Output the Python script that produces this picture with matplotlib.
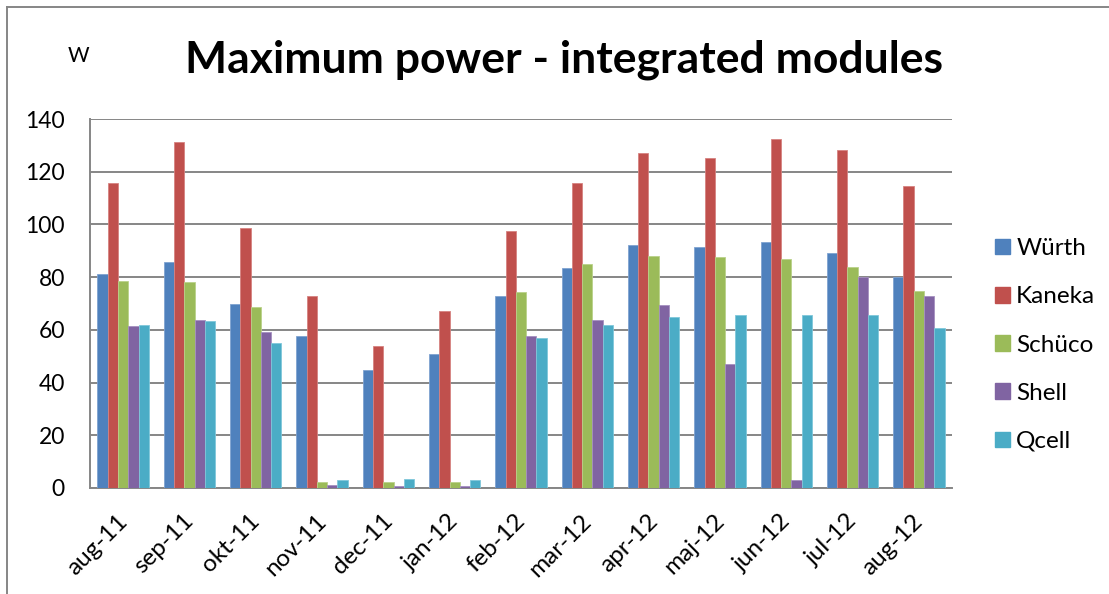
import matplotlib
matplotlib.use("Agg")
import matplotlib.pyplot as plt
from matplotlib.lines import Line2D
from matplotlib.patches import Patch
import numpy as np

months = ["aug-11", "sep-11", "okt-11", "nov-11", "dec-11", "jan-12", "feb-12",
          "mar-12", "apr-12", "maj-12", "jun-12", "jul-12", "aug-12"]
wurth = [81.3, 85.7, 69.9, 57.7, 44.9, 51.0, 73.0, 83.3, 92.3, 91.6, 93.5, 89.2, 80.1]
kaneka = [115.8, 131.4, 98.6, 72.8, 53.9, 67.2, 97.4, 115.7, 127.0, 125.3, 132.5, 128.1, 114.7]
schuco = [78.7, 78.3, 68.7, 2.1, 2.3, 2.3, 74.5, 84.9, 88.2, 87.6, 86.9, 84.0, 74.7]
shell = [61.6, 63.9, 59.2, 1.1, 0.9, 0.9, 57.8, 63.7, 69.6, 47.0, 3.2, 80.1, 72.7]
qcell = [61.8, 63.2, 54.9, 3.2, 3.5, 3.2, 57.0, 62.0, 64.8, 65.5, 65.5, 65.8, 60.6]
series_names = ["Würth", "Kaneka", "Schüco", "Shell", "Qcell"]
yticks = [0, 20, 40, 60, 80, 100, 120, 140]

colors = ["#4F81BD", "#C0504D", "#9BBB59", "#8064A2", "#4BACC6"]
edges = ["#7FA3D1", "#D68280", "#BAD28A", "#A590C0", "#7FC7DA"]

plt.rcParams['font.family'] = ['Lato', 'DejaVu Sans']

W, H = 1109, 594
fig = plt.figure(figsize=(W / 100, H / 100), dpi=100)
L, R, T, B = 90, 952, 119, 488
ax = fig.add_axes([L / W, (H - B) / H, (R - L) / W, (B - T) / H])

x = np.arange(len(months))
bw = 0.155
data = [wurth, kaneka, schuco, shell, qcell]
for i, (vals, c, ec) in enumerate(zip(data, colors, edges)):
    ax.bar(x + (i - 2) * bw, vals, width=bw, color=c, edgecolor=ec,
           linewidth=0.6, zorder=3)

ax.set_xlim(-0.5, len(months) - 0.5)
ax.set_ylim(0, 140)
ax.set_yticks(yticks)
ax.set_yticklabels([str(v) for v in yticks], fontsize=16.5)
ax.yaxis.grid(True, color="#868686", linewidth=1.4, zorder=0)
ax.set_axisbelow(True)
ax.tick_params(axis="y", length=0, pad=18)
ax.tick_params(axis="x", length=0, pad=16)
ax.set_xticks(x - 0.10)
ax.set_xticklabels(months, rotation=45, ha="right", va="top",
                   rotation_mode="anchor", fontsize=17.5)
for s in ["top", "right"]:
    ax.spines[s].set_visible(False)
for s in ["left", "bottom"]:
    ax.spines[s].set_color("#868686")
    ax.spines[s].set_linewidth(1.4)

fig.text(564 / W, 1 - 60 / H, "Maximum power - integrated modules",
         ha="center", va="center", fontsize=32, fontweight="bold")
fig.text(78 / W, 1 - 56 / H, "W", ha="center", va="center", fontsize=15)

handles = [Patch(facecolor=c, edgecolor=c) for c in colors]
fig.legend(handles, series_names, loc="center left",
           bbox_to_anchor=(995 / W, 1 - 345 / H), frameon=False,
           fontsize=17.5, handlelength=0.62, handleheight=0.62,
           handletextpad=0.25, labelspacing=1.12, borderpad=0,
           borderaxespad=0)

fig.add_artist(Line2D([7 / W, 1], [1 - 7 / H, 1 - 7 / H], color="#868686",
                      linewidth=1.4, transform=fig.transFigure))
fig.add_artist(Line2D([7 / W, 7 / W], [0, 1 - 7 / H], color="#868686",
                      linewidth=1.4, transform=fig.transFigure))

fig.savefig("out.png", dpi=100)
